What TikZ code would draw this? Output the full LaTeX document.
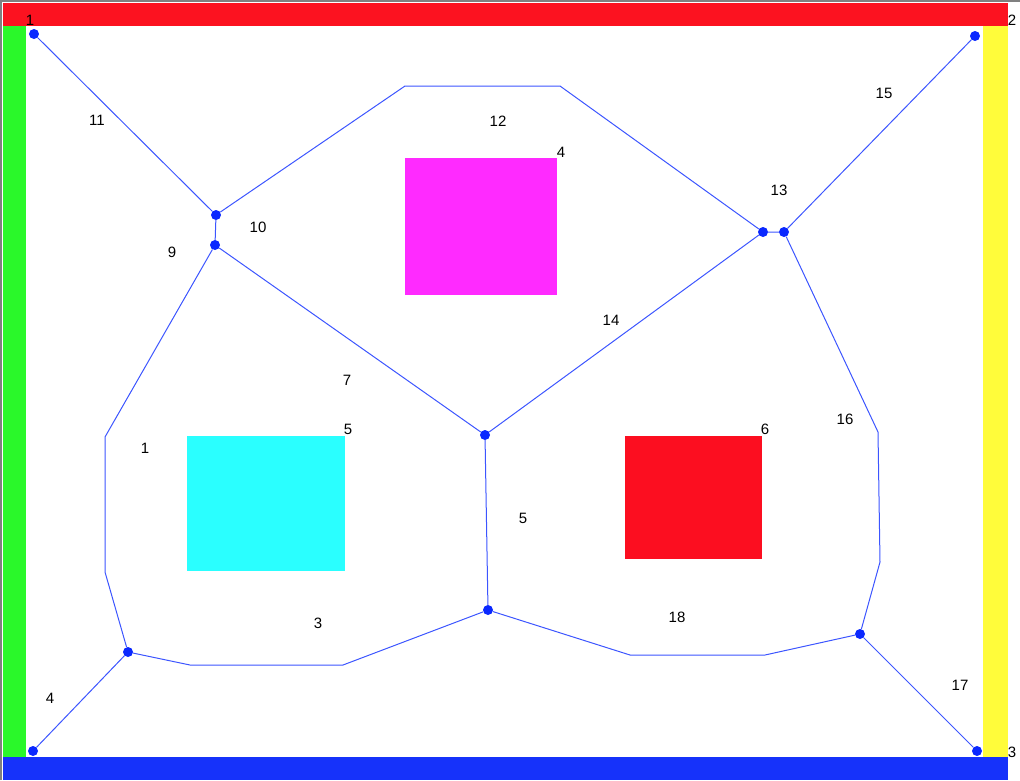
\documentclass[tikz,border=0pt]{standalone}
\usepackage{fontspec}
\setmainfont{Liberation Sans}
\definecolor{wallred}{RGB}{252,18,32}
\definecolor{wallgreen}{RGB}{42,248,42}
\definecolor{wallyellow}{RGB}{255,252,58}
\definecolor{wallblue}{RGB}{22,50,250}
\definecolor{obsmag}{RGB}{255,42,255}
\definecolor{obscyan}{RGB}{42,255,255}
\definecolor{obsred}{RGB}{252,14,32}
\definecolor{edgeblue}{RGB}{60,85,255}
\definecolor{dotblue}{RGB}{10,40,255}
\tikzset{
	dot/.style={circle, fill=dotblue, inner sep=0pt, minimum size=10pt},
	lbl/.style={font=\fontsize{15}{15}\selectfont, inner sep=0pt},
	seg/.style={edgeblue, line width=1pt}
}
\begin{document}
\begin{tikzpicture}[x=1pt,y=-1pt]
		\useasboundingbox (0,0) rectangle (1020,780);

		% walls
		\fill[wallred] (3,3) rectangle (1008,26);
		\fill[wallgreen] (3,26) rectangle (26,757);
		\fill[wallyellow] (983,26) rectangle (1008,757);
		\fill[wallblue] (3,757) rectangle (1008,780);
		\draw[gray, line width=2pt] (1,780) -- (1,1) -- (1020,1);

		% obstacles
		\fill[obsmag] (405,158) rectangle (557,295);
		\fill[obscyan] (187,436) rectangle (345,571);
		\fill[obsred] (625,436) rectangle (762,559);

		\draw
		node[dot] at (34,34) (c1) {}
		node[dot] at (975,36) (c2) {}
		node[dot] at (977,751) (c3) {}
		node[dot] at (33,751) (c4) {}
		node[dot] at (216,215) (p1) {}
		node[dot] at (215,245) (p2) {}
		node[dot] at (763,232) (p3) {}
		node[dot] at (784,232) (p4) {}
		node[dot] at (485,435) (p5) {}
		node[dot] at (488,610) (p6) {}
		node[dot] at (128,652) (p7) {}
		node[dot] at (860,634) (p8) {}

		coordinate (b12a) at (405,86)
		coordinate (b12b) at (560,86)
		coordinate (b1a) at (105,437)
		coordinate (b1b) at (105,572)
		coordinate (b3a) at (190,665)
		coordinate (b3b) at (343,665)
		coordinate (b18a) at (630,655)
		coordinate (b18b) at (765,655)
		coordinate (b16a) at (878,432)
		coordinate (b16b) at (880,562)

		node[lbl] at (30,20) (n1) {1}
		node[lbl] at (1012,20) (n2) {2}
		node[lbl] at (1012,752) (n3) {3}
		node[lbl] at (561,152) (o4) {4}
		node[lbl] at (348,429) (o5) {5}
		node[lbl] at (765,429) (o6) {6}

		node[lbl] at (97,120) (e11) {11}
		node[lbl] at (258,227) (e10) {10}
		node[lbl] at (498,121) (e12) {12}
		node[lbl] at (779,190) (e13) {13}
		node[lbl] at (884,93) (e15) {15}
		node[lbl] at (172,252) (e9) {9}
		node[lbl] at (347,380) (e7) {7}
		node[lbl] at (611,320) (e14) {14}
		node[lbl] at (145,448) (e1) {1}
		node[lbl] at (845,419) (e16) {16}
		node[lbl] at (523,518) (e5) {5}
		node[lbl] at (318,623) (e3) {3}
		node[lbl] at (677,617) (e18) {18}
		node[lbl] at (960,685) (e17) {17}
		node[lbl] at (50,698) (e4) {4}

		[seg] (c1) -- (p1)
		[seg] (p1) -- (p2)
		[seg] (p1) -- (b12a) -- (b12b) -- (p3)
		[seg] (p3) -- (p4)
		[seg] (p4) -- (c2)
		[seg] (p2) -- (p5)
		[seg] (p3) -- (p5)
		[seg] (p2) -- (b1a) -- (b1b) -- (p7)
		[seg] (p5) -- (p6)
		[seg] (p7) -- (b3a) -- (b3b) -- (p6)
		[seg] (p6) -- (b18a) -- (b18b) -- (p8)
		[seg] (p4) -- (b16a) -- (b16b) -- (p8)
		[seg] (p8) -- (c3)
		[seg] (c4) -- (p7)
		;
	\end{tikzpicture}
\end{document}
